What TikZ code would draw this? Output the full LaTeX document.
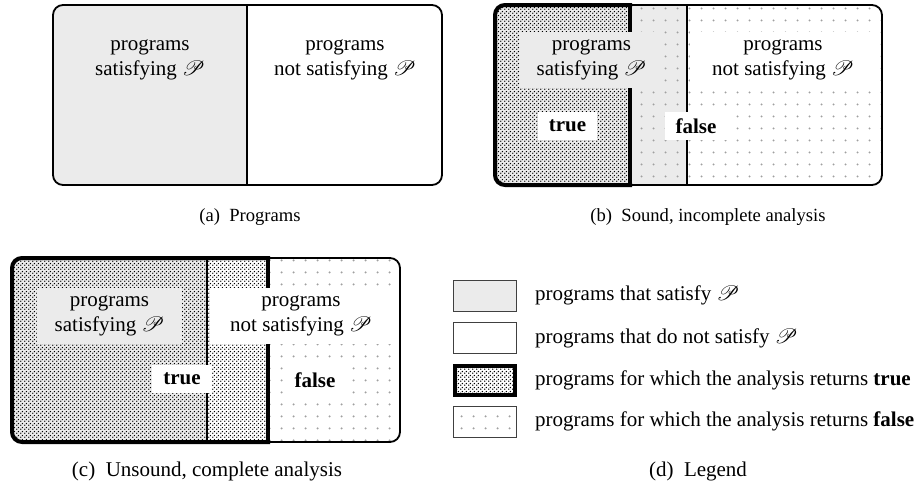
\documentclass[tikz,border=0pt]{standalone}
\usepackage{fontspec}
\setmainfont{Liberation Serif}
\usepackage{mathrsfs}
\usetikzlibrary{patterns.meta}
\definecolor{satgray}{HTML}{EBEBEB}
\definecolor{dotgray}{HTML}{A0A0A0}
\tikzdeclarepattern{
  name=truedots,
  type=uncolored,
  bottom left={(0pt,0pt)},
  top right={(4pt,4pt)},
  tile size={(4pt,4pt)},
  code={
    \pgfpathcircle{\pgfpoint{1pt}{1pt}}{0.9pt}
    \pgfpathcircle{\pgfpoint{3pt}{3pt}}{0.9pt}
    \pgfusepath{fill}
  }
}
\tikzdeclarepattern{
  name=falsedots,
  type=uncolored,
  bottom left={(0pt,0pt)},
  top right={(12pt,12pt)},
  tile size={(12pt,12pt)},
  code={
    \pgfpathcircle{\pgfpoint{6pt}{6pt}}{1.2pt}
    \pgfusepath{fill}
  }
}
\tikzset{
  outerbox/.style={line width=1.8pt, rounded corners=10pt},
  divline/.style={line width=1.4pt},
  truebd/.style={line width=4pt},
  tpat/.style={pattern={truedots}, pattern color=black},
  fpat/.style={pattern={falsedots}, pattern color=dotgray},
  lbl/.style={align=center, inner sep=0pt, minimum height=56pt},
  kw/.style={font=\fontsize{21}{25}\selectfont\bfseries, fill=white, inner xsep=11pt, inner ysep=3pt, minimum height=28pt},
  leg/.style={anchor=west, inner sep=0pt},
  legbox/.style={draw=black!75, line width=0.9pt, minimum width=63pt, minimum height=31pt, inner sep=0pt},
  captext/.style={inner sep=0pt, font=\fontsize{18.6}{23}\selectfont},
  captextb/.style={inner sep=0pt, font=\fontsize{21}{25}\selectfont},
}
\begin{document}
\begin{tikzpicture}[x=1pt,y=-1pt, every node/.append style={font=\fontsize{21}{25}\selectfont}]
\useasboundingbox (0,0) rectangle (921,482);
\fill[white] (0,0) rectangle (921,482);
% ---------------- (a)
\begin{scope}
  \clip[rounded corners=10pt] (53,5) rectangle (442,185);
  \fill[satgray] (53,5) rectangle (247,185);
\end{scope}
\draw[divline] (247,5) -- (247,185);
\draw[outerbox] (53,5) rectangle (442,185);
\node[lbl] (a1) at (150,60) {programs\\satisfying $\mathscr{P}$};
\node[lbl] (a2) at (345,60) {programs\\not satisfying $\mathscr{P}$};
\node[captext] (capa) at (250,217) {(a)\enspace Programs};
% ---------------- (b)
\begin{scope}
  \clip[rounded corners=10pt] (495,5) rectangle (882,185);
  \fill[satgray] (495,5) rectangle (687,185);
  \fill[tpat] (495,5) rectangle (630,185);
  \fill[fpat] (630,5) rectangle (882,185);
\end{scope}
\draw[divline] (687,5) -- (687,185);
\draw[outerbox] (495,5) rectangle (882,185);
\begin{scope}
  \clip (480,0) rectangle (632,195);
  \draw[truebd, rounded corners=10pt] (495,5) rectangle (882,185);
\end{scope}
\draw[truebd] (630,5) -- (630,185);
\node[lbl, fill=satgray, minimum width=143pt] (b1) at (591.5,59.5) {programs\\satisfying $\mathscr{P}$};
\node[lbl, fill=white, minimum width=186pt] (b2) at (783,59.5) {programs\\not satisfying $\mathscr{P}$};
\node[kw] (b3) at (567.5,126) {true};
\node[kw] (b4) at (696,126) {false};
\node[captext] (capb) at (708,217) {(b)\enspace Sound, incomplete analysis};
% ---------------- (c)
\begin{scope}
  \clip[rounded corners=10pt] (12,258) rectangle (400,442);
  \fill[satgray] (12,258) rectangle (207,442);
  \fill[tpat] (12,258) rectangle (268,442);
  \fill[fpat] (268,258) rectangle (400,442);
\end{scope}
\draw[divline] (207,258) -- (207,442);
\draw[outerbox] (12,258) rectangle (400,442);
\begin{scope}
  \clip (0,250) rectangle (270,450);
  \draw[truebd, rounded corners=10pt] (12,258) rectangle (400,442);
\end{scope}
\draw[truebd] (268,258) -- (268,442);
\node[lbl, fill=satgray, minimum width=145pt] (c1) at (109.5,315.5) {programs\\satisfying $\mathscr{P}$};
\node[lbl, fill=white, minimum width=182pt] (c2) at (301,316) {programs\\not satisfying $\mathscr{P}$};
\node[kw] (c3) at (182,379) {true};
\node[kw] (c4) at (315,380) {false};
\node[captextb] (capc) at (207,471) {(c)\enspace Unsound, complete analysis};
% ---------------- (d) legend
\node[legbox, fill=satgray] (l1) at (485,295.5) {};
\node[legbox, fill=white] (l2) at (485,338) {};
\node[legbox, fill=white, tpat, draw=black, line width=4pt, minimum width=60pt, minimum height=29pt] (l3) at (485,380.5) {};
\node[legbox, fill=white] (l4b) at (485,421.5) {};
\node[legbox, fpat] (l4) at (485,421.5) {};
\node[leg] (t1) at (535,295.5) {programs that satisfy $\mathscr{P}$};
\node[leg] (t2) at (535,338) {programs that do not satisfy $\mathscr{P}$};
\node[leg] (t3) at (535,380.5) {programs for which the analysis returns \textbf{true}};
\node[leg] (t4) at (535,421.5) {programs for which the analysis returns \textbf{false}};
\node[captextb] (capd) at (698,471) {(d)\enspace Legend};
\end{tikzpicture}
\end{document}
